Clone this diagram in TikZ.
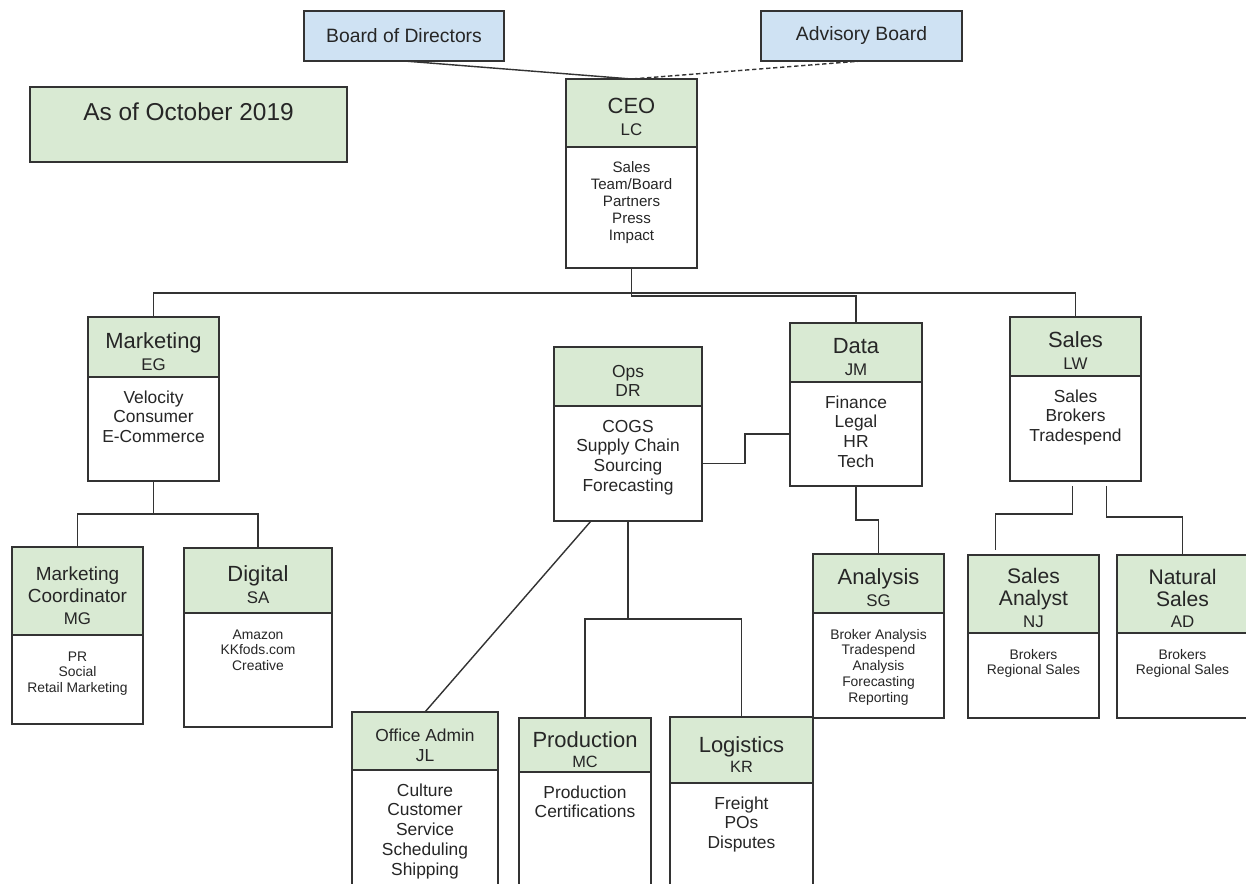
\documentclass[tikz,border=0pt]{standalone}
\usepackage{fontspec}
\setmainfont{Liberation Sans}
\usepackage{tikz}
\usetikzlibrary{calc}
\definecolor{hdrgreen}{HTML}{D9EAD3}
\definecolor{brdblue}{HTML}{CFE2F3}
\newdimen\pxu \pxu=0.02cm
\newcommand\ftitle{\fontsize{12.5}{12.5}\selectfont}
\newcommand\finit{\fontsize{9.6}{12.5}\selectfont}
\newcommand\fsub{\fontsize{9.3}{11.3}\selectfont}
\newcommand\fops{\fontsize{9.9}{11.3}\selectfont}
\newcommand\fmc{\fontsize{10.8}{12.5}\selectfont}
\newcommand\fsa{\fontsize{12}{12.5}\selectfont}
\newcommand\fmid{\fontsize{9.9}{11.3}\selectfont}
\newcommand\fsmall{\fontsize{8.6}{9.6}\selectfont}
\newcommand\ftiny{\fontsize{7.9}{9}\selectfont}
\newcommand\fboard{\fontsize{11}{13}\selectfont}
\newcommand\fasof{\fontsize{13.9}{16}\selectfont}
\newcommand\headtxt[4][5pt]{\parbox[c][#3\pxu][c]{#2\pxu}{\centering\finit\vspace*{#1}#4\par}}
\newcommand\bodytxt[4]{\parbox[c][#2\pxu][t]{#1\pxu}{\centering\rule{0pt}{#3}#4\par}}
\tikzset{>=stealth}
\tikzset{
  hdr/.style={draw=black!80, fill=hdrgreen, line width=0.8pt, inner sep=0pt, outer sep=0pt, text=black!85},
  bdy/.style={hdr, fill=white},
  brd/.style={hdr, fill=brdblue},
  link/.style={draw=black!80, line width=0.8pt}
}
% header node (#1) and body node (#1b) of one box
\newcommand\orgbox[8]{%
  \node[hdr, anchor=north west] (#1) at (#2) {\headtxt{#3}{#4}{#6}};
  \node[bdy, anchor=north west] (#1b) at (#1.south west) {\bodytxt{#3}{#5}{14.8pt}{#7#8}};}
\begin{document}
\begin{tikzpicture}[x=0.02cm, y=-0.02cm]
  \useasboundingbox (0,0) rectangle (1246,884);
  \clip (0,0) rectangle (1246,884);
  % boards and date
  \node[brd, anchor=north west] (bod) at (304,11) {\headtxt[0pt]{200}{50}{\fboard Board of Directors}};
  \node[brd, anchor=north west] (adv) at (761,11) {\headtxt[0pt]{201}{50}{\fboard Advisory Board}};
  \node[hdr, anchor=north west] (asof) at (30,87) {\bodytxt{317}{75}{19.2pt}{\fasof As of October 2019}};
  % boxes
  \orgbox{ceo}{566,79}{131}{68}{121}{{\ftitle CEO}\\LC}{\fsmall}{Sales\\Team/Board\\Partners\\Press\\Impact}
  \orgbox{mkt}{88,317}{131}{60}{104}{{\ftitle Marketing}\\EG}{\fmid}{Velocity\\Consumer\\E-Commerce}
  \orgbox{mc}{12,547}{131}{88}{89}{{\fmc Marketing\\Coordinator}\\MG}{\ftiny}{PR\\Social\\Retail Marketing}
  \orgbox{dig}{184,548}{148}{65}{114}{{\ftitle Digital}\\SA}{\ftiny}{Amazon\\KKfods.com\\Creative}
  \orgbox{ops}{554,347}{148}{59}{115}{\fops Ops\\DR}{\fmid}{COGS\\Supply Chain\\Sourcing\\Forecasting}
  \orgbox{data}{790,323}{132}{59}{104}{{\ftitle Data}\\JM}{\fmid}{Finance\\Legal\\HR\\Tech}
  \orgbox{ana}{813,554}{131}{59}{105}{{\ftitle Analysis}\\SG}{\ftiny}{Broker Analysis\\Tradespend\\Analysis\\Forecasting\\Reporting}
  \orgbox{oa}{352,712}{146}{58}{130}{\fops Office Admin\\JL}{\fmid}{Culture\\Customer\\Service\\Scheduling\\Shipping}
  \orgbox{prod}{519,718}{132}{54}{130}{{\ftitle Production}\\\fsub MC}{\fmid}{Production\\Certifications}
  \orgbox{logi}{670,717}{143}{66}{120}{{\ftitle Logistics}\\\fsub KR}{\fmid}{Freight\\POs\\Disputes}
  \orgbox{sales}{1010,317}{131}{59}{105}{{\ftitle Sales}\\LW}{\fmid}{Sales\\Brokers\\Tradespend}
  \orgbox{sa}{968,555}{131}{78}{85}{{\fsa Sales\\Analyst}\\NJ}{\ftiny}{Brokers\\Regional Sales}
  \orgbox{ns}{1117,555}{131}{78}{85}{{\fsa Natural\\Sales}\\AD}{\ftiny}{Brokers\\Regional Sales}
  % connectors
  \draw[link] (bod.south) -- (ceo.north);
  \draw[link, dash pattern=on 2.5pt off 1.5pt] (adv.south) -- (ceo.north);
  \draw[link] (ceob.south) -- ++(0,25) -| (mkt.north);
  \draw[link] (ceob.south) -- ++(0,25) -| (sales.north);
  \draw[link] (ceob.south) -- ++(0,28) -| (data.north);
  \draw[link] (mktb.south) -- ++(0,33) -| (mc.north);
  \draw[link] (mktb.south) -- ++(0,33) -| (dig.north);
  \draw[link] (opsb.east) -- ++(43,0) |- (datab.west);
  \draw[link] ($(opsb.south west)!0.25!(opsb.south east)$) -- (oa.north);
  \draw[link] (opsb.south) -- ++(0,98) -| (prod.north);
  \draw[link] (opsb.south) -- ++(0,98) -| (logi.north);
  \draw[link] (datab.south) -- ++(0,34) -| (ana.north);
  \draw[link, shorten <=0.1cm, shorten >=0.1cm] ($(salesb.south)+(-3,0)$) -- ++(0,33) -| ($(sa.north)+(-38,0)$);
  \draw[link, shorten <=0.1cm] ($(salesb.south)+(31,0)$) -- ++(0,36) -| (ns.north);
\end{tikzpicture}
\end{document}
